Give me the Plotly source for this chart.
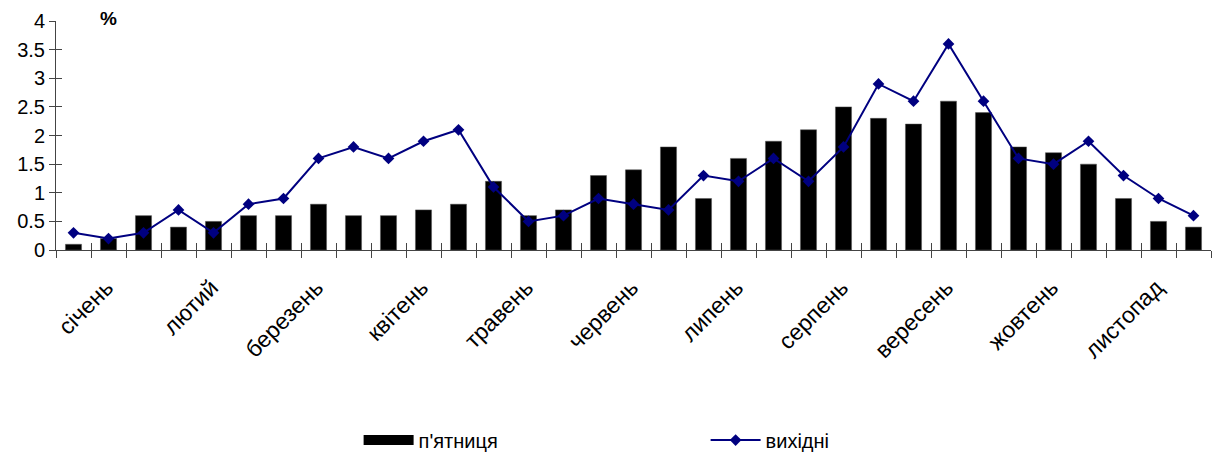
import plotly.graph_objects as go

months = ["січень", "лютий", "березень", "квітень", "травень", "червень",
          "липень", "серпень", "вересень", "жовтень", "листопад"]
friday = [0.1, 0.2, 0.6, 0.4, 0.5, 0.6, 0.6, 0.8, 0.6, 0.6, 0.7, 0.8, 1.2, 0.6, 0.7,
          1.3, 1.4, 1.8, 0.9, 1.6, 1.9, 2.1, 2.5, 2.3, 2.2, 2.6, 2.4, 1.8, 1.7, 1.5,
          0.9, 0.5, 0.4]
weekend = [0.3, 0.2, 0.3, 0.7, 0.3, 0.8, 0.9, 1.6, 1.8, 1.6, 1.9, 2.1, 1.1, 0.5, 0.6,
           0.9, 0.8, 0.7, 1.3, 1.2, 1.6, 1.2, 1.8, 2.9, 2.6, 3.6, 2.6, 1.6, 1.5, 1.9,
           1.3, 0.9, 0.6]

n = len(friday)
x = list(range(n))
month_pos = [1 + 3 * i for i in range(len(months))]
bounds = [i - 0.5 for i in range(n + 1)]

FONT = "Liberation Sans, Arial, sans-serif"

fig = go.Figure()
fig.add_trace(go.Bar(x=x, y=friday, name="п'ятниця", width=0.46, showlegend=False,
                     marker=dict(color="black", line=dict(color="#555", width=0.5))))
# legend-only entry to show a wide black rectangle like the original legend key
fig.add_trace(go.Scatter(x=[None], y=[None], name="п'ятниця", mode="lines",
                         line=dict(color="black", width=14)))
fig.add_trace(go.Scatter(x=x, y=weekend, name="вихідні", mode="lines+markers",
                         line=dict(color="#000080", width=2),
                         marker=dict(symbol="diamond", size=9, color="#000080")))
# invisible trace for overlay axes (crossing ticks)
fig.add_trace(go.Scatter(x=[0], y=[0], xaxis="x2", yaxis="y2", mode="markers",
                         marker=dict(opacity=0), showlegend=False, hoverinfo="skip"))

fig.update_layout(
    width=1213, height=453,
    margin=dict(l=56, r=2, t=21, b=203, autoexpand=False),
    plot_bgcolor="white", paper_bgcolor="white",
    font=dict(family=FONT, size=20, color="black"),
    showlegend=True,
    legend=dict(orientation="h", x=0.262, y=-0.83, xanchor="left", yanchor="middle",
                entrywidth=282, entrywidthmode="pixels", itemwidth=50,
                font=dict(size=20)),
    xaxis=dict(range=[-0.5, n - 0.5], tickmode="array", tickvals=month_pos,
               ticktext=months, tickangle=-45, ticks="", showgrid=False,
               showline=True, linecolor="#444", linewidth=1, zeroline=False,
               tickfont=dict(size=23), ticklabelstandoff=14, ticklabelshift=-2,
               minor=dict(tickmode="array", tickvals=bounds, ticks="outside",
                          ticklen=7, tickcolor="#444", tickwidth=1, showgrid=False)),
    yaxis=dict(range=[0, 4], dtick=0.5, ticks="outside", ticklen=6, tickcolor="#444",
               showgrid=False, showline=True, linecolor="#444", linewidth=1,
               zeroline=False, tickfont=dict(size=20)),
    xaxis2=dict(overlaying="x", anchor="y2", range=[-0.5, n - 0.5], tickmode="array",
                tickvals=bounds, ticks="inside", ticklen=7, tickcolor="#444",
                showticklabels=False, showgrid=False, showline=False, zeroline=False),
    yaxis2=dict(overlaying="y", anchor="x2", range=[0, 4], dtick=0.5, ticks="inside",
                ticklen=6, tickcolor="#444", showticklabels=False, showgrid=False,
                showline=False, zeroline=False),
    annotations=[dict(text="<b>%</b>", x=(108 - 56) / 1155, y=(250 - 18) / 229,
                      xref="paper", yref="paper", xanchor="center", yanchor="middle",
                      showarrow=False, font=dict(size=19))],
)

fig.write_html("out.html")
